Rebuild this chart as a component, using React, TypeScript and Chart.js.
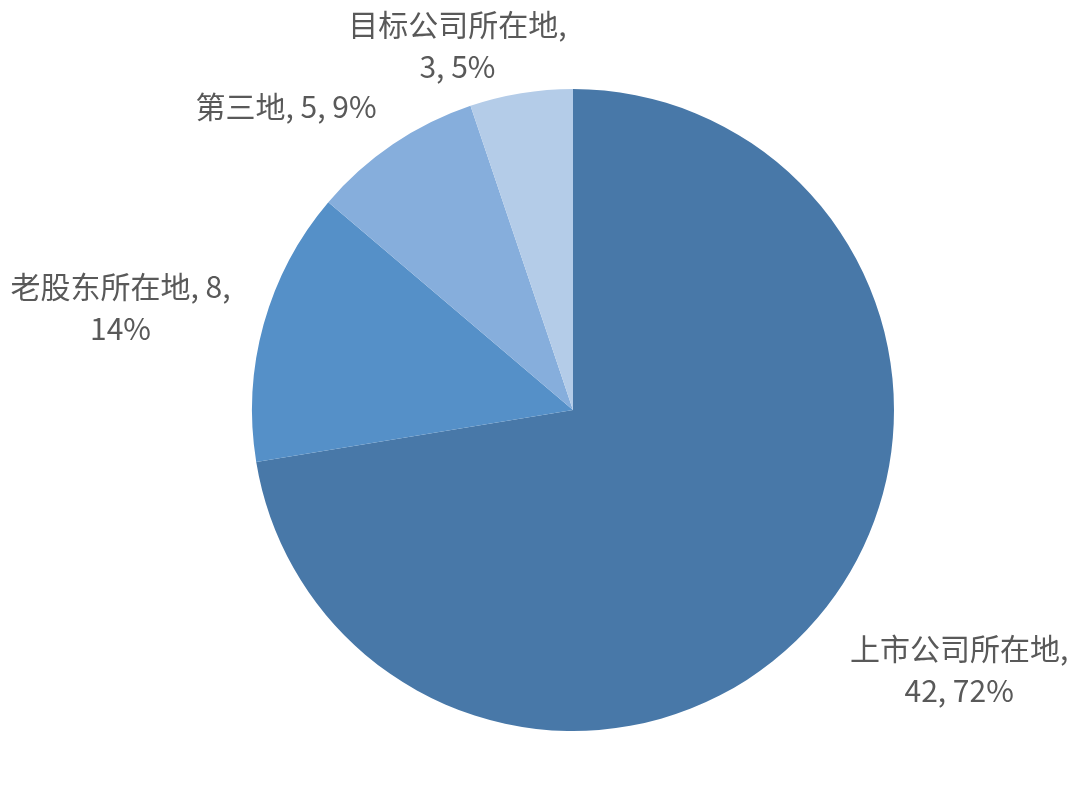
import React, { useRef, useEffect } from 'react';
import { Chart, registerables } from 'chart.js';

Chart.register(...registerables);

const categories = ['上市公司所在地', '老股东所在地', '第三地', '目标公司所在地'];
const counts = [42, 8, 5, 3];
const sliceColors = ['#4878A8', '#5590C8', '#86AEDC', '#B4CCE8'];

// where each data label sits, relative to the slice's mid angle (radius factor, angle shift in degrees)
const labelPlacement = [
  { radius: 1.45, shift: -6.4 },
  { radius: 1.445, shift: -2.8 },
  { radius: 1.3, shift: -9.3 },
  { radius: 1.19, shift: -8.3 },
];

const FONT = '30px "Noto Sans CJK SC", "Noto Sans", sans-serif';

function wrapParts(ctx: CanvasRenderingContext2D, parts: string[], maxWidth: number) {
  const lines: string[] = [];
  let cur = '';
  parts.forEach((p, i) => {
    const piece = i < parts.length - 1 ? p + ',' : p;
    const next = cur ? cur + ' ' + piece : piece;
    if (cur && ctx.measureText(next).width > maxWidth) {
      lines.push(cur);
      cur = piece;
    } else {
      cur = next;
    }
  });
  if (cur) lines.push(cur);
  return lines;
}

const pieLabels = {
  id: 'pieLabels',
  afterDatasetsDraw(chart: Chart) {
    const ctx = chart.ctx;
    const meta = chart.getDatasetMeta(0);
    const data = chart.data.datasets[0].data as number[];
    const total = data.reduce((a, b) => a + b, 0);
    ctx.save();
    ctx.font = FONT;
    ctx.fillStyle = '#595959';
    ctx.textAlign = 'center';
    ctx.textBaseline = 'middle';
    meta.data.forEach((el: any, i: number) => {
      const { x, y, startAngle, endAngle, outerRadius } = el.getProps(
        ['x', 'y', 'startAngle', 'endAngle', 'outerRadius'],
        true
      );
      const place = labelPlacement[i];
      const a = (startAngle + endAngle) / 2 + (place.shift * Math.PI) / 180;
      const r = outerRadius * place.radius;
      const cx = x + Math.cos(a) * r;
      const cy = y + Math.sin(a) * r;
      const pct = Math.round((data[i] / total) * 100);
      const lines = wrapParts(ctx, [categories[i], String(data[i]), pct + '%'], 245);
      const lh = 42;
      lines.forEach((line, j) => {
        ctx.fillText(line, cx, cy + (j - (lines.length - 1) / 2) * lh);
      });
    });
    ctx.restore();
  },
};

export default function App() {
  const canvasRef = useRef<HTMLCanvasElement | null>(null);
  const chartRef = useRef<Chart | null>(null);

  useEffect(() => {
    document.body.style.margin = '0';
    if (canvasRef.current) {
      chartRef.current = new Chart(canvasRef.current, {
        type: 'pie',
        data: {
          labels: categories,
          datasets: [
            {
              data: counts,
              backgroundColor: sliceColors,
              borderWidth: 0,
            },
          ],
        },
        options: {
          responsive: false,
          animation: false,
          layout: { padding: { left: 252, right: 186, top: 89, bottom: 79 } },
          plugins: {
            legend: { display: false },
            tooltip: { enabled: false },
          },
        },
        plugins: [pieLabels],
      });
    }
    return () => {
      if (chartRef.current) {
        chartRef.current.destroy();
        chartRef.current = null;
      }
    };
  }, []);

  return (
    <div style={{ width: 1080, height: 810, background: '#fff' }}>
      <canvas ref={canvasRef} width={1080} height={810} />
    </div>
  );
}
